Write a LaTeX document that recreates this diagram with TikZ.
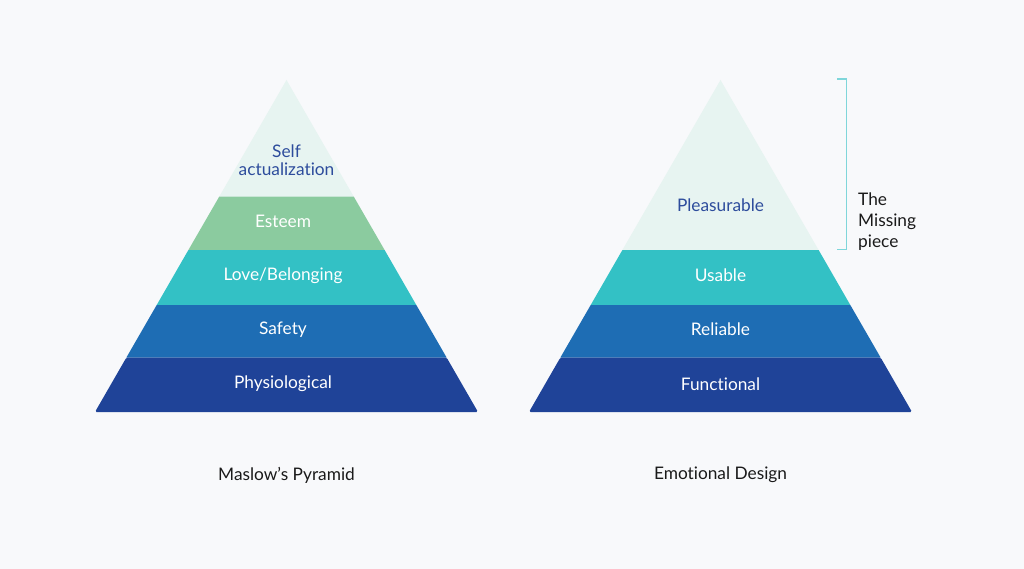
\documentclass[tikz,border=0pt]{standalone}
\usepackage{fontspec}
\setmainfont{Lato}[RawFeature=-liga]
\usepackage{tikz}
\usetikzlibrary{positioning, calc}
\usepackage{xcolor}
\definecolor{bgcol}{HTML}{F8F9FB}
\definecolor{topcol}{HTML}{E7F4F1}
\definecolor{esteemcol}{HTML}{8BCB9F}
\definecolor{tealcol}{HTML}{33C1C5}
\definecolor{bluecol}{HTML}{1E6DB4}
\definecolor{darkcol}{HTML}{1F4398}
\definecolor{inkblue}{HTML}{2D4C9C}
\definecolor{bracketcol}{HTML}{7FD6DA}
\definecolor{inkdark}{HTML}{1A1A1A}

\tikzset{
  band/.style={draw=none},
  lbl/.style={font=\fontsize{17.3}{19}\selectfont, text=white, inner sep=0pt},
  toplbl/.style={lbl, text=inkblue, align=center},
  caption/.style={font=\fontsize{17.3}{21}\selectfont, text=inkdark, inner sep=0pt}
}

\begin{document}
\begin{tikzpicture}[x=1pt, y=-1pt]
  \fill[bgcol] (0,0) rectangle (1024,569);
  \useasboundingbox (0,0) rectangle (1024,569);

  % Maslow
  \fill[band, topcol] (286.5,80) -- (353.8,196.7) -- (219.2,196.7) -- cycle;
  \fill[band, esteemcol] (219.2,196.7) -- (353.8,196.7) -- (384.6,250) -- (188.4,250) -- cycle;
  \fill[band, tealcol] (188.4,250) -- (384.6,250) -- (416.3,305) -- (156.7,305) -- cycle;
  \fill[band, bluecol] (156.7,305) -- (416.3,305) -- (446.6,357.5) -- (126.4,357.5) -- cycle;
  \fill[band, darkcol, rounded corners=1.5pt] (126.4,357.5) -- (446.6,357.5) -- (478,412) -- (95,412) -- cycle;

  \node[toplbl] (self) at (286.5,160) {Self\\[-1pt]actualization};
  \node[lbl] (esteem) at (283,221.5) {Esteem};
  \node[lbl] (love) at (283,275.5) {Love/Belonging};
  \node[lbl] (safety) at (283,329.5) {Safety};
  \node[lbl] (physio) at (283,384) {Physiological};
  \node[caption] (maslow) at (286.5,475) {Maslow’s Pyramid};

  % Emotional design
  \fill[band, topcol] (720.5,80) -- (818.6,250) -- (622.4,250) -- cycle;
  \fill[band, tealcol] (622.4,250) -- (818.6,250) -- (850.3,305) -- (590.7,305) -- cycle;
  \fill[band, bluecol] (590.7,305) -- (850.3,305) -- (880.6,357.5) -- (560.4,357.5) -- cycle;
  \fill[band, darkcol, rounded corners=1.5pt] (560.4,357.5) -- (880.6,357.5) -- (912,412) -- (529,412) -- cycle;

  \node[toplbl] (pleasure) at (720.5,205) {Pleasurable};
  \node[lbl] (usable) at (720.5,275.5) {Usable};
  \node[lbl] (reliable) at (720.5,329.5) {Reliable};
  \node[lbl] (functional) at (720.5,384) {Functional};
  \node[caption] (emotional) at (720.5,475) {Emotional Design};

  % bracket
  \coordinate (brtop) at (837,79);
  \coordinate (brbot) at (837,249.5);
  \draw[bracketcol, line width=1.5pt] (brtop) -- ++(9.5,0) |- (brbot);
  \node[caption, anchor=west, align=left] (missing) at (858,222) {The\\Missing\\piece};
\end{tikzpicture}
\end{document}
